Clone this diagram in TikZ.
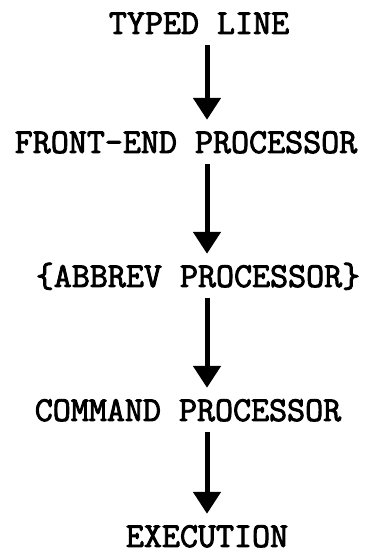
\documentclass[tikz,border=0pt]{standalone}
\usepackage{fontspec}
\newfontfamily\typerfont{Latin Modern Mono}[FakeBold=2.5,AutoFakeBold=2.5]
\usetikzlibrary{arrows.meta}

\begin{document}
\begin{tikzpicture}[x=1pt,y=1pt,
  stage/.style={font=\fontsize{35}{35}\selectfont\typerfont\bfseries,inner sep=0pt,text height=20pt,text depth=0pt},
  flow/.style={line width=5pt,-{Triangle[width=27pt,length=22pt]},shorten <=11pt,shorten >=13pt}]
\useasboundingbox (0,0) rectangle (372,554);

\node [stage] (typed) at (199,530) {TYPED LINE};
\node [stage] (front) at (186,411) {FRONT-END PROCESSOR};
\node [stage] (abbrev) at (198,277) {\{ABBREV PROCESSOR\}};
\node [stage] (command) at (188,143) {COMMAND PROCESSOR};
\node [stage] (execution) at (207,17) {EXECUTION};

\draw [flow] (typed.south -| execution) -- (front.north -| execution);
\draw [flow] (front.south -| execution) -- (abbrev.north -| execution);
\draw [flow] (abbrev.south -| execution) -- (command.north -| execution);
\draw [flow] (command.south -| execution) -- (execution.north);
\end{tikzpicture}
\end{document}
